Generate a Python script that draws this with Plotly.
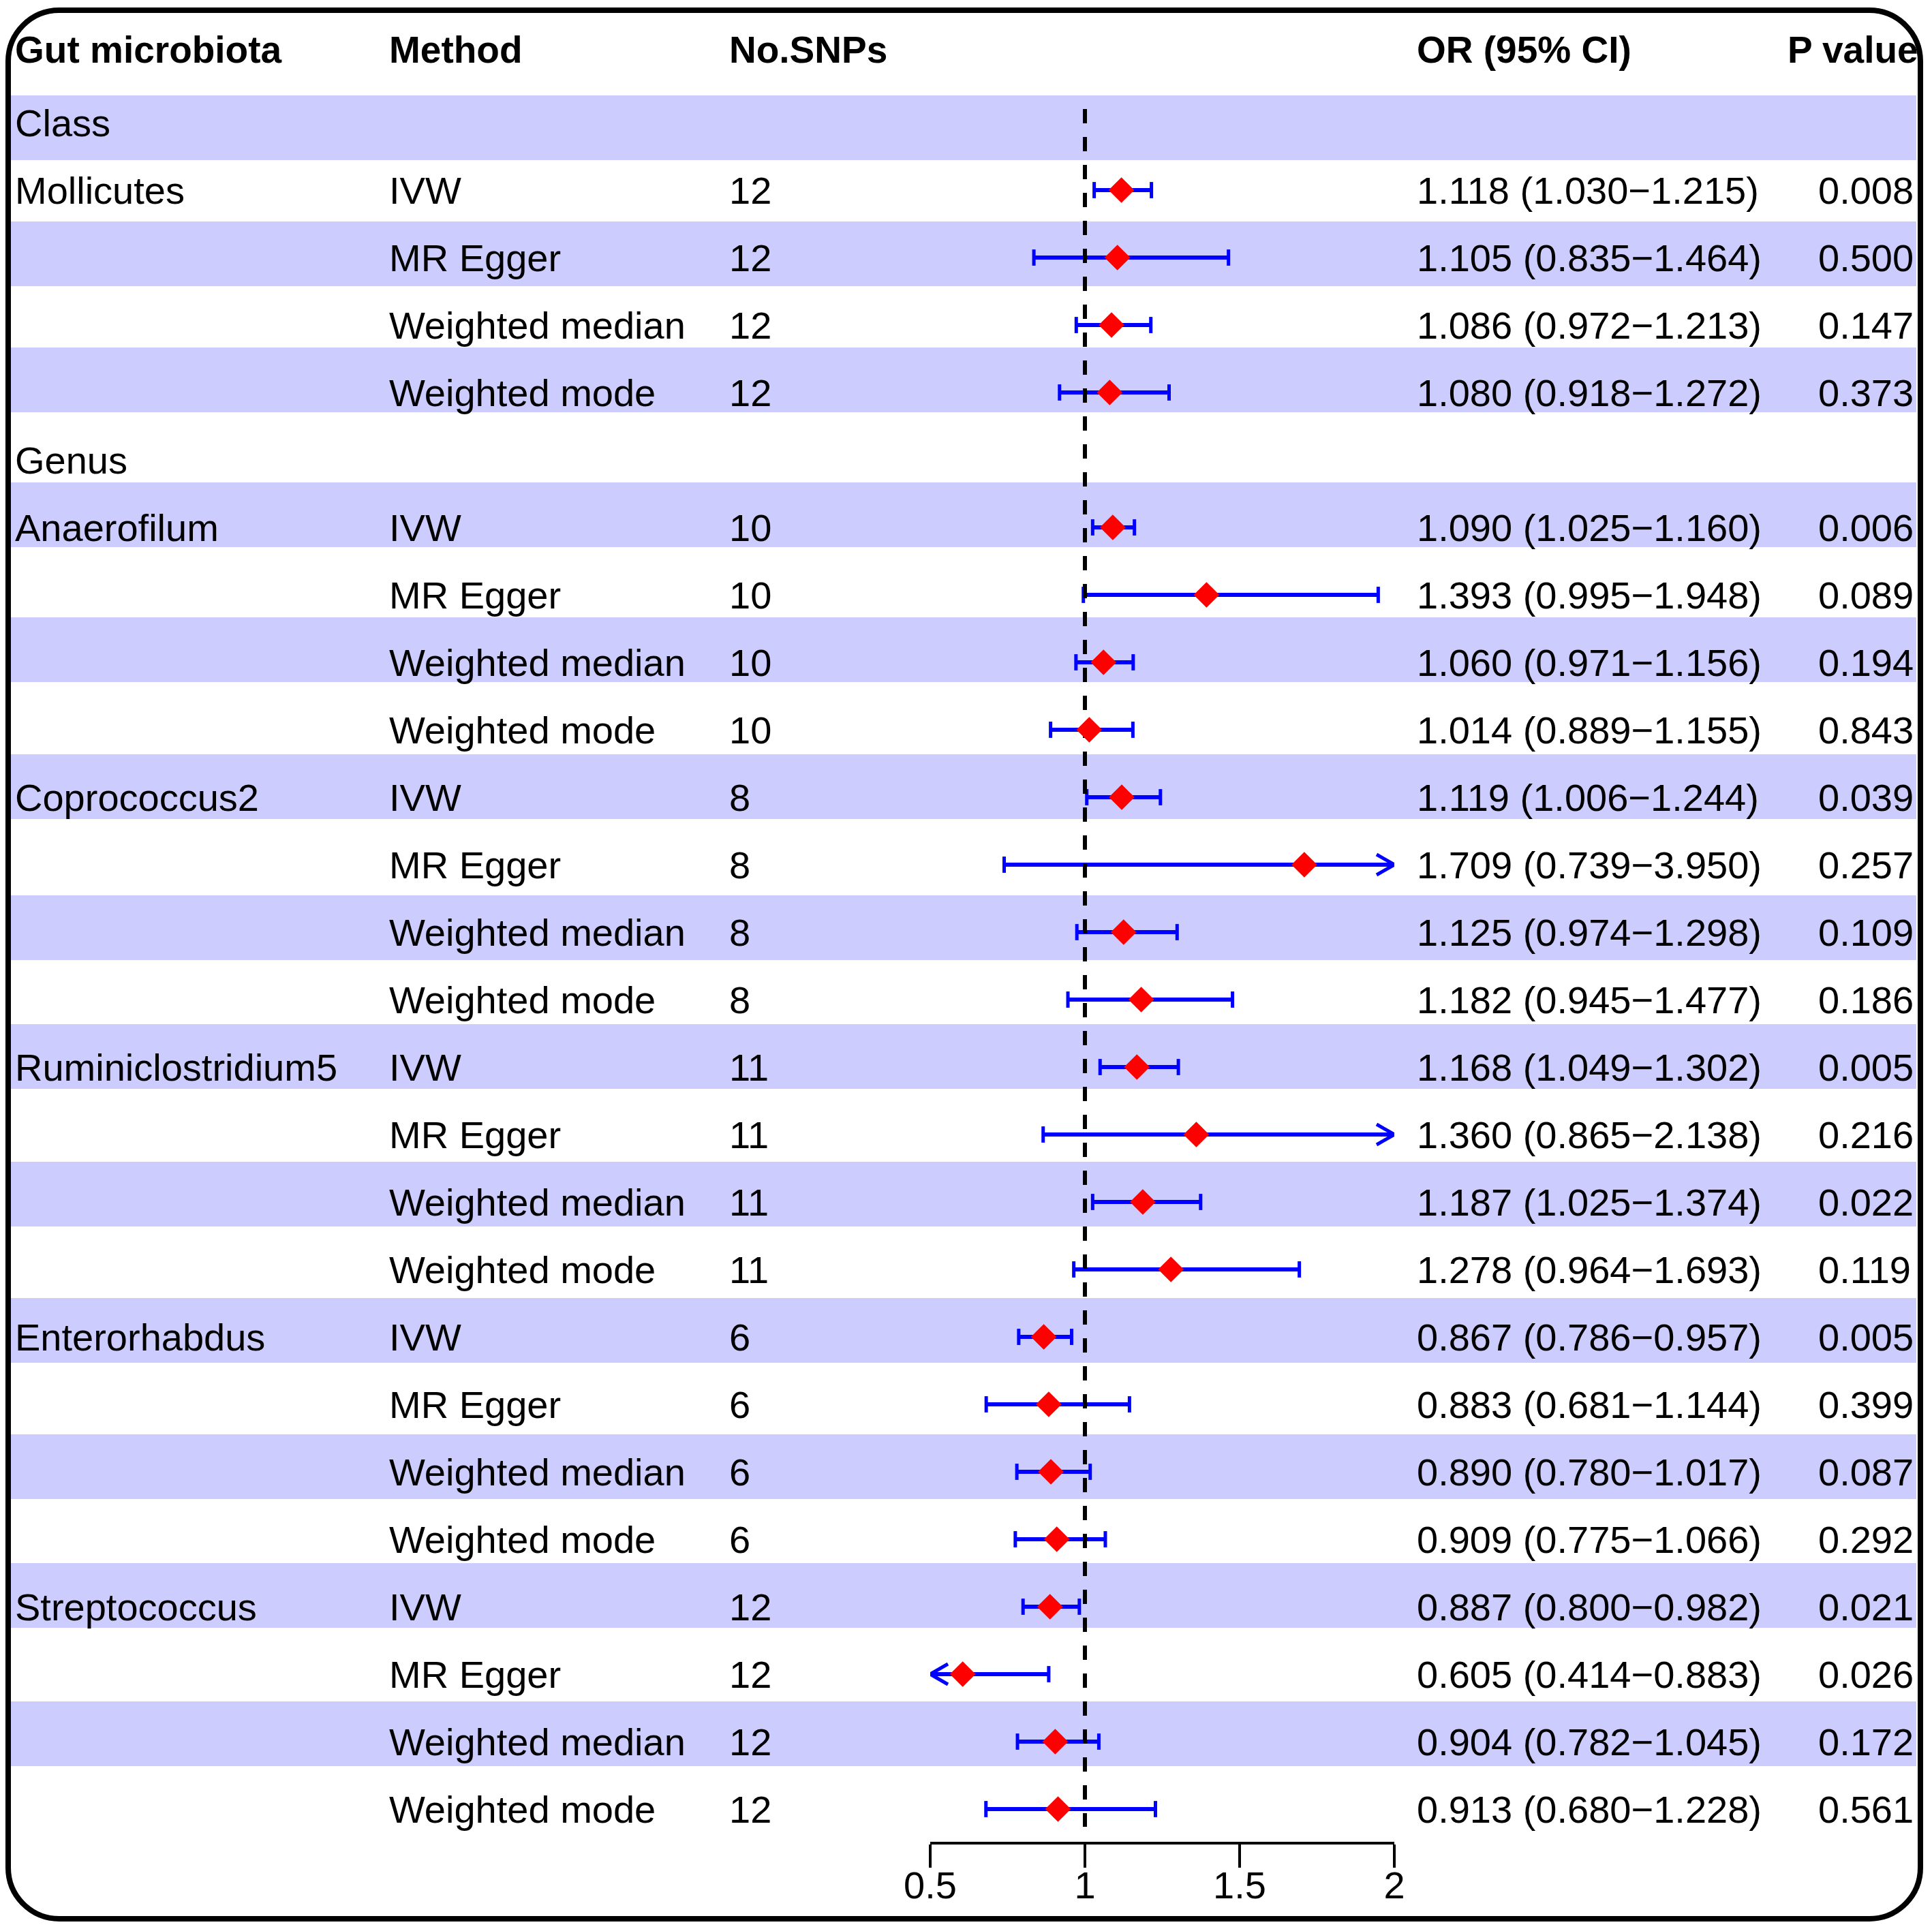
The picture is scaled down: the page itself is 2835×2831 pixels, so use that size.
import plotly.graph_objects as go

# ---- data ----
taxa = ["Mollicutes", "Anaerofilum", "Coprococcus2", "Ruminiclostridium5",
        "Enterorhabdus", "Streptococcus"]
taxa_level = ["Class", "Genus", "Genus", "Genus", "Genus", "Genus"]
methods = ["IVW", "MR Egger", "Weighted median", "Weighted mode"]
n_snps = [12, 10, 8, 11, 6, 12]

or_est = [1.118, 1.105, 1.086, 1.080,
          1.090, 1.393, 1.060, 1.014,
          1.119, 1.709, 1.125, 1.182,
          1.168, 1.360, 1.187, 1.278,
          0.867, 0.883, 0.890, 0.909,
          0.887, 0.605, 0.904, 0.913]
or_low = [1.030, 0.835, 0.972, 0.918,
          1.025, 0.995, 0.971, 0.889,
          1.006, 0.739, 0.974, 0.945,
          1.049, 0.865, 1.025, 0.964,
          0.786, 0.681, 0.780, 0.775,
          0.800, 0.414, 0.782, 0.680]
or_up = [1.215, 1.464, 1.213, 1.272,
         1.160, 1.948, 1.156, 1.155,
         1.244, 3.950, 1.298, 1.477,
         1.302, 2.138, 1.374, 1.693,
         0.957, 1.144, 1.017, 1.066,
         0.982, 0.883, 1.045, 1.228]
p_val = [0.008, 0.500, 0.147, 0.373,
         0.006, 0.089, 0.194, 0.843,
         0.039, 0.257, 0.109, 0.186,
         0.005, 0.216, 0.022, 0.119,
         0.005, 0.399, 0.087, 0.292,
         0.021, 0.026, 0.172, 0.561]

headers = ["Gut microbiota", "Method", "No.SNPs", "OR (95% CI)", "P value"]
x_ticks = [0.5, 1, 1.5, 2]

# ---- layout settings (pixels on the page) ----
W, H = 2835, 2831
OFF = 8  # page body margin
XMIN, XMAX = 0.5, 2.0
AX_L, AX_R = 1365, 2046
ROW_Y0, ROW_STEP = 180, 99
# tops of the shaded stripes (every second row), as laid out in the original
BAND_TOPS = [140, 325, 510, 708, 906, 1107, 1314, 1503, 1705, 1905, 2105, 2294, 2497]
BAND_H = 95
COL_X = [20, 569, 1068, 2077, 2666]
FONT = "Liberation Sans"
FS_HEAD, FS = 55, 56
BLUE, RED, BAND = "#0000FF", "#FF0000", "#CCCCFF"


def px(x):
    return (x - OFF) / W


def py(y):
    return 1 - (y - OFF) / H


# build table rows
rows = []
prev = None
for t, taxon in enumerate(taxa):
    if taxa_level[t] != prev:
        rows.append({"label": taxa_level[t], "data": None})
        prev = taxa_level[t]
    for m, meth in enumerate(methods):
        k = t * 4 + m
        rows.append({"label": taxon if m == 0 else "", "method": meth,
                     "snp": n_snps[t], "data": k})

fig = go.Figure()
shapes = []
annotations = []

# stripes
for top in BAND_TOPS:
    shapes.append(dict(type="rect", xref="paper", yref="y", x0=px(15), x1=px(2812),
                       y0=top, y1=top + BAND_H, fillcolor=BAND,
                       line=dict(width=0), layer="below"))

# header
for cx, htxt in zip(COL_X[:4], headers[:4]):
    annotations.append(dict(x=px(cx), y=73, xref="paper", yref="y", text="<b>%s</b>" % htxt,
                            xanchor="left", yanchor="middle", showarrow=False,
                            font=dict(family=FONT, size=FS_HEAD, color="black")))
annotations.append(dict(x=px(2817), y=73, xref="paper", yref="y", text="<b>%s</b>" % headers[4],
                        xanchor="right", yanchor="middle", showarrow=False,
                        font=dict(family=FONT, size=FS_HEAD, color="black")))

ci_x, ci_y = [], []
cap_x, cap_y = [], []
arr_x, arr_y = [], []
dia_x, dia_y = [], []
dx = 26 / ((AX_R - AX_L) / (XMAX - XMIN))

for i, r in enumerate(rows):
    yc = ROW_Y0 + i * ROW_STEP
    texts = [r["label"]]
    k = r["data"]
    if k is not None:
        texts += [r["method"], str(r["snp"]),
                  "%.3f (%.3f\u2212%.3f)" % (or_est[k], or_low[k], or_up[k]),
                  "%.3f" % p_val[k]]
    for cx, s in zip(COL_X, texts):
        if s:
            annotations.append(dict(x=px(cx), y=yc, xref="paper", yref="y", text=s,
                                    xanchor="left", yanchor="middle", showarrow=False,
                                    font=dict(family=FONT, size=FS, color="black")))
    if k is None:
        continue
    lo, hi, est = or_low[k], or_up[k], or_est[k]
    ci_x += [max(lo, XMIN), min(hi, XMAX), None]
    ci_y += [yc, yc, None]
    if lo >= XMIN:
        cap_x.append(lo)
        cap_y.append(yc)
    else:
        arr_x += [XMIN + dx, XMIN, XMIN + dx, None]
        arr_y += [yc - 15, yc, yc + 15, None]
    if hi <= XMAX:
        cap_x.append(hi)
        cap_y.append(yc)
    else:
        arr_x += [XMAX - dx, XMAX, XMAX - dx, None]
        arr_y += [yc - 15, yc, yc + 15, None]
    dia_x.append(est)
    dia_y.append(yc)

fig.add_trace(go.Scatter(x=ci_x, y=ci_y, mode="lines", line=dict(color=BLUE, width=6),
                         hoverinfo="skip"))
fig.add_trace(go.Scatter(x=cap_x, y=cap_y, mode="markers", cliponaxis=False,
                         marker=dict(symbol="line-ns-open", size=17, color=BLUE,
                                     line=dict(width=5, color=BLUE)), hoverinfo="skip"))
fig.add_trace(go.Scatter(x=arr_x, y=arr_y, mode="lines", line=dict(color=BLUE, width=5),
                         hoverinfo="skip"))
fig.add_trace(go.Scatter(x=[1, 1], y=[160, 2681], mode="lines",
                         line=dict(color="black", width=6, dash="21px,20px"), hoverinfo="skip"))
fig.add_trace(go.Scatter(x=dia_x, y=dia_y, mode="markers", cliponaxis=False,
                         marker=dict(symbol="diamond", size=29, color=RED, line=dict(width=0)),
                         hoverinfo="skip"))

# rounded outer frame
L, T, R, B, rad, kk = 12, 15, 2818, 2816, 75, 0.5523
pts = [("M", [(L + rad, T)]), ("L", [(R - rad, T)]),
       ("C", [(R - rad + kk * rad, T), (R, T + rad - kk * rad), (R, T + rad)]),
       ("L", [(R, B - rad)]),
       ("C", [(R, B - rad + kk * rad), (R - rad + kk * rad, B), (R - rad, B)]),
       ("L", [(L + rad, B)]),
       ("C", [(L + rad - kk * rad, B), (L, B - rad + kk * rad), (L, B - rad)]),
       ("L", [(L, T + rad)]),
       ("C", [(L, T + rad - kk * rad), (L + rad - kk * rad, T), (L + rad, T)])]
path = " ".join(c + " " + " ".join("%.6f,%.6f" % (px(a), py(b)) for a, b in p) for c, p in pts) + " Z"
shapes.append(dict(type="path", xref="paper", yref="paper", path=path,
                   line=dict(color="black", width=8), layer="above"))

fig.update_layout(
    width=W, height=H,
    margin=dict(l=0, r=0, t=0, b=0, pad=0, autoexpand=False),
    paper_bgcolor="white", plot_bgcolor="rgba(0,0,0,0)",
    showlegend=False,
    shapes=shapes, annotations=annotations,
    xaxis=dict(domain=[px(AX_L), px(AX_R)], range=[XMIN, XMAX], anchor="free",
               position=py(2705), tickvals=x_ticks, ticktext=[str(v) for v in x_ticks],
               ticks="outside", ticklen=34, tickwidth=4, tickcolor="black",
               showline=True, linewidth=4, linecolor="black", showgrid=False, zeroline=False,
               automargin=False, ticklabelstandoff=-22,
               tickfont=dict(family=FONT, size=FS, color="black")),
    # y in page pixels, top of figure sits OFF px below page top
    yaxis=dict(domain=[0, 1], range=[H + OFF, OFF], visible=False, showgrid=False,
               zeroline=False, automargin=False),
)

fig.write_html("out.html")
